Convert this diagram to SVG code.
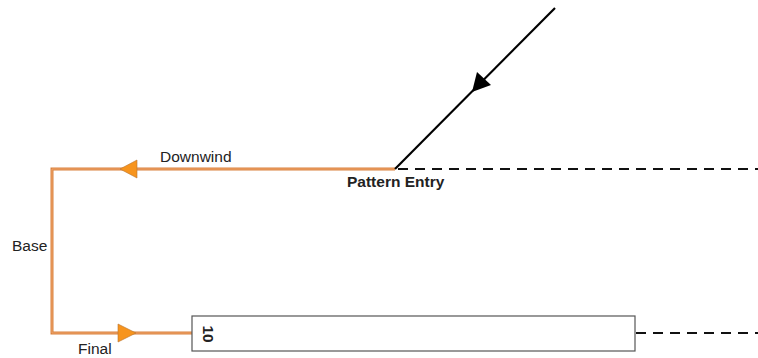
<svg xmlns="http://www.w3.org/2000/svg" width="758" height="358" viewBox="0 0 758 358">
<style>
.lbl{font-family:"Liberation Sans",Arial,sans-serif;font-size:15.5px;fill:#222}
.bold{font-weight:bold}
.pat{fill:none;stroke:#D9823F;stroke-width:3}
.patin{fill:none;stroke:#F0A46A;stroke-width:1}
.dash{stroke:#111;stroke-width:2.2;stroke-dasharray:10,7;fill:none}
.arr{fill:#F7941D;stroke:#B8732F;stroke-width:0.6}
</style>
<g id="connectors">
<polyline class="pat" points="395,169 52,169 52,333 192,333"/>
<polyline class="patin" points="395,169 52,169 52,333 192,333"/>
<polygon class="arr" points="120,169 137,160 137,178"/>
<polygon class="arr" points="136,333 118,324 118,342"/>
<line class="dash" x1="398" y1="169" x2="758" y2="169"/>
<line class="dash" x1="636" y1="333" x2="758" y2="333"/>
<line x1="555" y1="8" x2="395" y2="169" stroke="#000" stroke-width="2.2"/>
<polygon points="472,92 477,72 491,85" fill="#000"/>
</g>
<g id="runway">
<rect x="192" y="316" width="443" height="35" fill="#fff" stroke="#555" stroke-width="1.2"/>
<text class="lbl bold" transform="translate(203,334) rotate(90)" text-anchor="middle" font-size="15.5">10</text>
</g>
<g id="labels">
<text class="lbl" x="160" y="162">Downwind</text>
<text class="lbl" x="12" y="251">Base</text>
<text class="lbl" x="78" y="354" font-size="14.5">Final</text>
<text class="lbl bold" x="347" y="187">Pattern Entry</text>
</g>
</svg>
